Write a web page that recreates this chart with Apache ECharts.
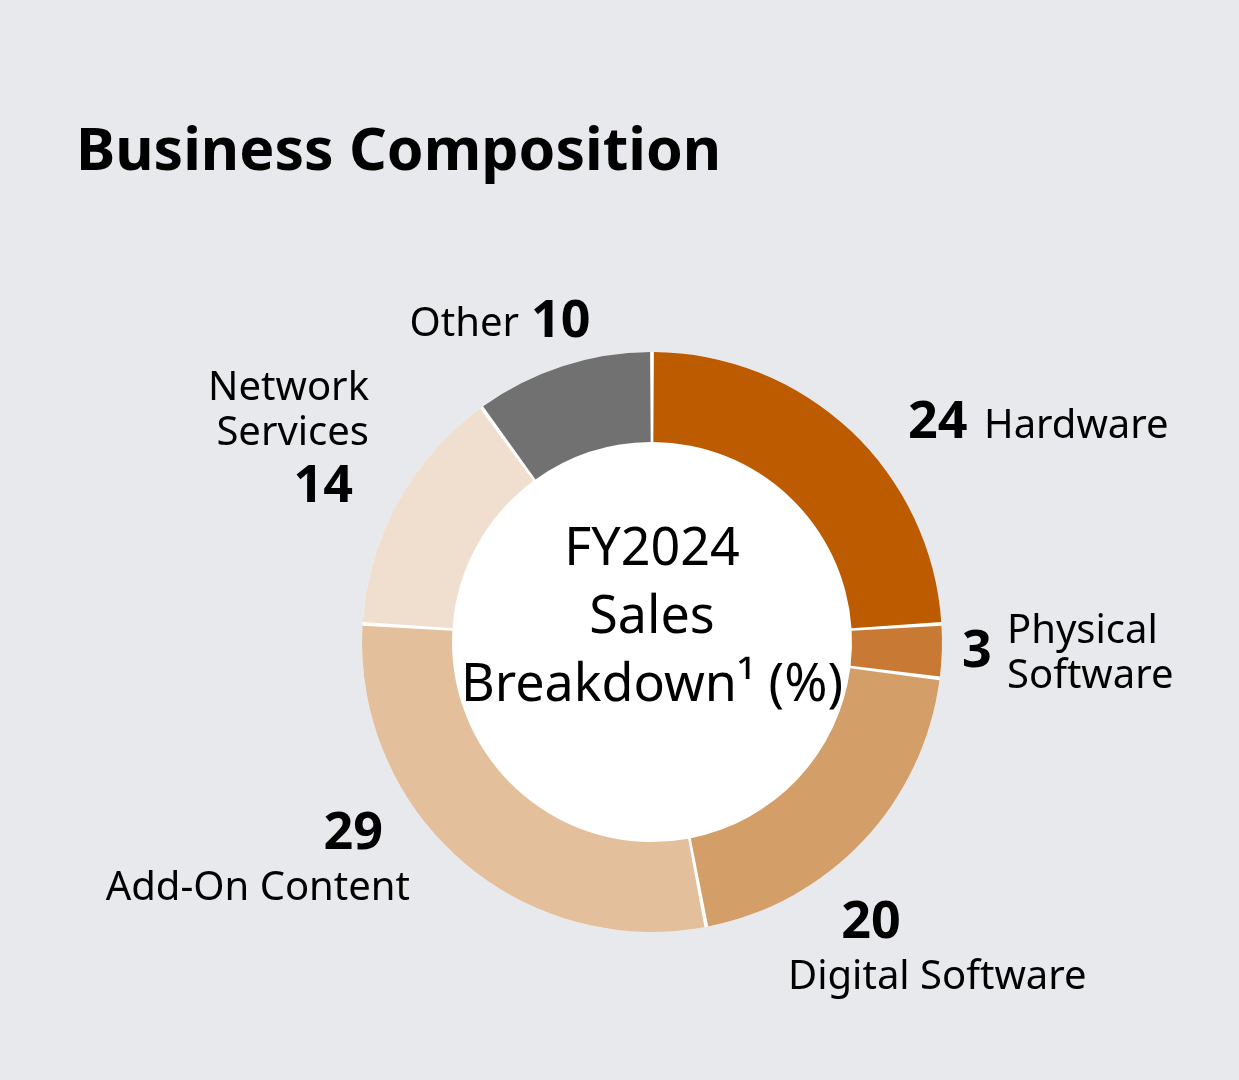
<!DOCTYPE html>
<html>
<head>
<meta charset="utf-8">
<title>Business Composition</title>
<script src="https://cdn.jsdelivr.net/npm/echarts@6/dist/echarts.min.js"></script>
<style>
  html, body { margin: 0; padding: 0; background: #e8e9ed; }
  #chart { width: 1239px; height: 1080px; }
</style>
</head>
<body>
<div id="chart"></div>
<script>
  // FY2024 sales breakdown (%)
  const categories = ['Hardware', 'Physical Software', 'Digital Software', 'Add-On Content', 'Network Services', 'Other'];
  const shares = [24, 3, 20, 29, 14, 10];
  const nameLabels = ['Hardware', 'Physical\nSoftware', 'Digital Software', 'Add-On Content', 'Network\nServices', 'Other'];
  const sliceColors = ['#bc5b00', '#c87a35', '#d49e69', '#e3bf9b', '#f0dfcf', '#717171'];
  const centerText = 'FY2024\nSales\nBreakdown¹ (%)';

  const FONT = '"Noto Sans", "Open Sans", sans-serif';

  // label anchors (number / name) per slice
  const numPos = [
    {x: 908, y: 423, align: 'left'},
    {x: 962, y: 652, align: 'left'},
    {x: 871, y: 923, align: 'center'},
    {x: 383, y: 834, align: 'right'},
    {x: 353, y: 487, align: 'right'},
    {x: 531, y: 322, align: 'left'}
  ];
  const namePos = [
    {x: 984, y: 427, align: 'left'},
    {x: 1007, y: 654, align: 'left'},
    {x: 788, y: 978, align: 'left'},
    {x: 410, y: 889, align: 'right'},
    {x: 369, y: 411, align: 'right'},
    {x: 519, y: 325, align: 'right'}
  ];

  const chart = echarts.init(document.getElementById('chart'));
  const center = [652, 642];
  const ring = [200, 290];

  const sliceData = categories.map((c, i) => ({
    name: c,
    value: shares[i],
    itemStyle: {color: sliceColors[i]}
  }));

  const option = {
    backgroundColor: '#e8e9ed',
    animation: false,
    title: {
      text: 'Business Composition',
      left: 71,
      top: 119,
      textStyle: {
        fontFamily: FONT,
        fontWeight: 'bold',
        fontSize: 59,
        color: '#000'
      }
    },
    series: [
      // white disc behind the ring (shows through the gaps) + centre caption
      {
        type: 'pie',
        center: center,
        radius: [0, ring[1]],
        silent: true,
        data: [{value: 1, name: centerText, itemStyle: {color: '#ffffff'}}],
        label: {
          show: true,
          position: 'center',
          formatter: '{b}',
          fontFamily: FONT,
          fontSize: 52,
          lineHeight: 68,
          color: '#000',
          align: 'center'
        },
        labelLine: {show: false},
        labelLayout: {dy: -24}
      },
      // donut with bold values
      {
        type: 'pie',
        center: center,
        radius: ring,
        startAngle: 90,
        clockwise: true,
        padAngle: 0.75,
        avoidLabelOverlap: false,
        silent: true,
        data: sliceData,
        label: {
          show: true,
          position: 'outside',
          formatter: '{c}',
          fontFamily: FONT,
          fontWeight: 'bold',
          fontSize: 52,
          color: '#000'
        },
        labelLine: {show: false},
        labelLayout: function (p) {
          const pos = numPos[p.dataIndex];
          return {x: pos.x, y: pos.y, align: pos.align, verticalAlign: 'middle'};
        }
      },
      // same slices again, transparent, carrying the category names
      {
        type: 'pie',
        center: center,
        radius: ring,
        startAngle: 90,
        clockwise: true,
        avoidLabelOverlap: false,
        silent: true,
        itemStyle: {color: 'rgba(0,0,0,0)', borderWidth: 0},
        data: categories.map((c, i) => ({name: nameLabels[i], value: shares[i]})),
        label: {
          show: true,
          position: 'outside',
          formatter: '{b}',
          fontFamily: FONT,
          fontSize: 40,
          lineHeight: 45,
          color: '#000'
        },
        labelLine: {show: false},
        labelLayout: function (p) {
          const pos = namePos[p.dataIndex];
          return {x: pos.x, y: pos.y, align: pos.align, verticalAlign: 'middle'};
        }
      }
    ]
  };

  chart.setOption(option);
  window.addEventListener('resize', function () {
    chart.resize();
  });
</script>
</body>
</html>
